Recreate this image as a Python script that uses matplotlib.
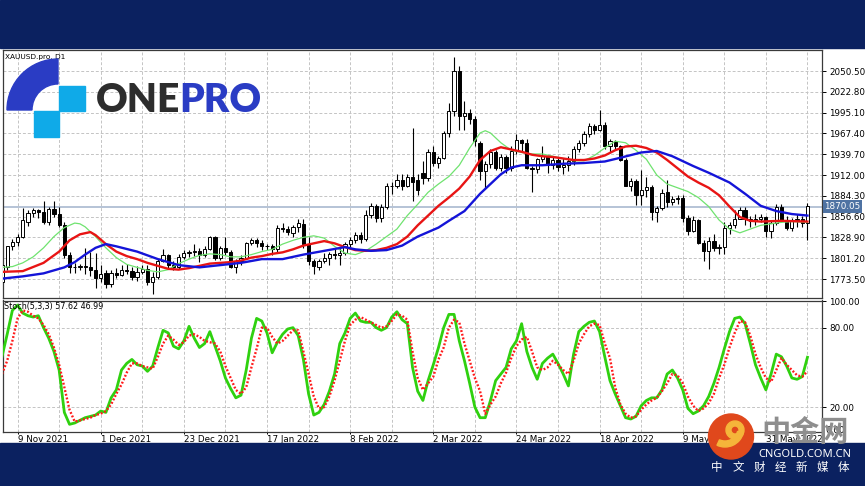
import matplotlib
matplotlib.use("Agg")
import matplotlib.pyplot as plt
import matplotlib.transforms as mtrans
from matplotlib.patches import Rectangle, Wedge, Circle
import numpy as np

# daily XAUUSD candles, bar 0 = 4 Nov 2021 ... bar 155 = 10 Jun 2022
opens = [1770, 1790, 1817, 1823, 1830, 1850, 1862, 1865, 1863, 1850,
         1867, 1860, 1846, 1805, 1790, 1789, 1791, 1790, 1786, 1775,
         1781, 1767, 1782, 1779, 1785, 1784, 1776, 1783, 1787, 1769,
         1776, 1798, 1805, 1792, 1789, 1803, 1808, 1810, 1811, 1805,
         1814, 1829, 1801, 1815, 1810, 1790, 1797, 1801, 1821, 1825,
         1822, 1817, 1818, 1813, 1842, 1840, 1835, 1843, 1847, 1820,
         1797, 1790, 1797, 1801, 1807, 1805, 1808, 1820, 1826, 1832,
         1827, 1859, 1871, 1855, 1869, 1898, 1898, 1905, 1898, 1910,
         1906, 1915, 1908, 1943, 1928, 1935, 1968, 1997, 2050, 1990,
         1995, 1987, 1954, 1918, 1927, 1943, 1921, 1936, 1921, 1944,
         1958, 1954, 1922, 1920, 1933, 1937, 1925, 1932, 1923, 1925,
         1931, 1946, 1954, 1966, 1977, 1972, 1979, 1950, 1957, 1951,
         1932, 1898, 1904, 1886, 1892, 1896, 1863, 1868, 1889, 1876,
         1880, 1882, 1855, 1838, 1852, 1821, 1811, 1824, 1815, 1816,
         1841, 1846, 1853, 1866, 1853, 1851, 1853, 1856, 1837, 1848,
         1869, 1851, 1842, 1852, 1853, 1848]
highs = [1795, 1818, 1827, 1833, 1868, 1866, 1868, 1867, 1877, 1870,
         1877, 1869, 1849, 1810, 1795, 1794, 1815, 1810, 1808, 1792,
         1785, 1786, 1788, 1792, 1794, 1790, 1791, 1792, 1792, 1783,
         1800, 1814, 1807, 1797, 1807, 1812, 1812, 1820, 1815, 1818,
         1831, 1831, 1817, 1829, 1812, 1800, 1805, 1823, 1828, 1828,
         1825, 1820, 1820, 1846, 1848, 1844, 1845, 1853, 1853, 1829,
         1800, 1800, 1808, 1810, 1813, 1816, 1823, 1830, 1836, 1836,
         1865, 1875, 1874, 1873, 1902, 1903, 1914, 1913, 1914, 1974,
         1914, 1930, 1946, 1950, 1937, 1970, 2008, 2069, 2057, 2010,
         2000, 1990, 1957, 1930, 1947, 1945, 1940, 1938, 1950, 1966,
         1960, 1960, 1924, 1935, 1950, 1939, 1937, 1936, 1934, 1937,
         1950, 1959, 1970, 1981, 1980, 1998, 1982, 1960, 1959, 1952,
         1935, 1908, 1907, 1919, 1910, 1899, 1871, 1893, 1906, 1884,
         1886, 1886, 1859, 1858, 1854, 1826, 1829, 1834, 1820, 1849,
         1850, 1865, 1869, 1870, 1858, 1860, 1860, 1858, 1852, 1874,
         1874, 1857, 1855, 1860, 1857, 1875]
lows = [1759, 1786, 1812, 1817, 1828, 1844, 1856, 1855, 1847, 1846,
        1856, 1843, 1802, 1782, 1781, 1785, 1780, 1778, 1762, 1770,
        1762, 1763, 1775, 1777, 1780, 1772, 1771, 1780, 1765, 1753,
        1774, 1796, 1788, 1786, 1787, 1800, 1803, 1804, 1796, 1803,
        1812, 1799, 1799, 1806, 1788, 1782, 1792, 1800, 1819, 1816,
        1812, 1812, 1805, 1810, 1836, 1832, 1830, 1836, 1815, 1792,
        1780, 1786, 1795, 1792, 1800, 1792, 1805, 1816, 1822, 1821,
        1824, 1855, 1849, 1850, 1867, 1887, 1895, 1892, 1896, 1878,
        1885, 1900, 1904, 1924, 1922, 1933, 1963, 1990, 1972, 1972,
        1980, 1950, 1906, 1895, 1922, 1919, 1918, 1915, 1918, 1940,
        1944, 1920, 1890, 1915, 1929, 1915, 1920, 1917, 1914, 1918,
        1926, 1942, 1951, 1963, 1966, 1970, 1946, 1942, 1946, 1930,
        1897, 1891, 1872, 1872, 1883, 1852, 1850, 1866, 1870, 1872,
        1874, 1850, 1832, 1836, 1820, 1797, 1787, 1811, 1807, 1807,
        1834, 1842, 1853, 1845, 1843, 1845, 1849, 1829, 1828, 1845,
        1849, 1839, 1837, 1843, 1843, 1825]
closes = [1792, 1817, 1823, 1830, 1852, 1862, 1865, 1863, 1850, 1867,
          1860, 1846, 1805, 1790, 1789, 1791, 1790, 1786, 1775, 1780,
          1767, 1782, 1779, 1785, 1784, 1776, 1783, 1787, 1769, 1776,
          1798, 1805, 1792, 1789, 1803, 1808, 1810, 1811, 1805, 1814,
          1829, 1801, 1815, 1810, 1790, 1797, 1801, 1821, 1825, 1822,
          1817, 1818, 1813, 1842, 1840, 1836, 1843, 1848, 1820, 1797,
          1791, 1797, 1801, 1807, 1805, 1808, 1820, 1826, 1832, 1827,
          1859, 1871, 1855, 1869, 1898, 1898, 1905, 1898, 1910, 1903,
          1892, 1908, 1943, 1928, 1935, 1968, 1997, 2050, 1990, 1995,
          1987, 1957, 1918, 1927, 1943, 1921, 1936, 1921, 1944, 1958,
          1954, 1922, 1920, 1933, 1937, 1925, 1932, 1923, 1925, 1931,
          1946, 1954, 1966, 1977, 1972, 1979, 1950, 1957, 1951, 1932,
          1898, 1904, 1886, 1892, 1896, 1863, 1868, 1888, 1876, 1880,
          1882, 1855, 1838, 1852, 1821, 1811, 1824, 1815, 1816, 1841,
          1846, 1853, 1866, 1853, 1851, 1853, 1856, 1837, 1848, 1869,
          1851, 1842, 1852, 1853, 1848, 1871]
last_price = 1870.05

# moving averages (bar index, price)
green_ma_bars = [0, 2, 4, 6, 8, 10, 12, 14, 15, 16, 18, 20, 22, 24, 26, 28, 30, 32, 34, 36,
                 38, 40, 42, 44, 46, 48, 50, 52, 54, 56, 58, 60, 62, 64, 66, 68, 70, 72, 74, 76,
                 78, 80, 82, 84, 86, 88, 90, 92, 93, 94, 96, 98, 100, 102, 104, 106, 108, 110,
                 112, 114, 116, 118, 120, 122, 124, 126, 128, 130, 132, 134, 136, 138, 140, 142,
                 144, 146, 148, 150, 152, 155]
green_ma = [1789, 1790, 1795, 1803, 1815, 1830, 1842, 1848, 1847, 1843, 1830, 1815, 1802, 1793,
            1789, 1785, 1783, 1786, 1794, 1800, 1805, 1807, 1806, 1803, 1803, 1806, 1810, 1813,
            1820, 1825, 1829, 1831, 1828, 1817, 1808, 1806, 1811, 1820, 1830, 1840, 1858, 1873,
            1889, 1900, 1910, 1925, 1948, 1968, 1971, 1968, 1955, 1945, 1942, 1940, 1940, 1937,
            1934, 1931, 1931, 1938, 1948, 1957, 1955, 1945, 1933, 1912, 1900, 1895, 1890, 1882,
            1870, 1852, 1840, 1835, 1840, 1845, 1847, 1849, 1850, 1849]
red_ma_bars = [0, 4, 8, 11, 13, 15, 17, 18, 20, 22, 24, 26, 28, 30, 32, 34, 36, 38, 40, 42,
               44, 46, 48, 50, 52, 54, 56, 58, 60, 62, 64, 66, 68, 70, 72, 74, 76, 78, 80, 82,
               84, 86, 88, 90, 92, 94, 96, 98, 100, 102, 104, 106, 108, 110, 112, 114, 116, 118,
               120, 122, 124, 126, 128, 130, 132, 134, 136, 138, 140, 142, 144, 146, 150, 155]
red_ma = [1783, 1784, 1795, 1810, 1825, 1833, 1836, 1832, 1820, 1810, 1804, 1800, 1795, 1791,
          1787, 1786, 1788, 1791, 1794, 1795, 1796, 1798, 1802, 1804, 1807, 1809, 1813, 1818,
          1821, 1824, 1821, 1816, 1812, 1811, 1812, 1815, 1820, 1830, 1845, 1858, 1871, 1882,
          1894, 1910, 1932, 1944, 1949, 1946, 1943, 1939, 1937, 1936, 1934, 1932, 1932, 1934,
          1938, 1945, 1950, 1951, 1948, 1942, 1932, 1921, 1910, 1902, 1895, 1885, 1870, 1856,
          1851, 1850, 1851, 1850]
blue_ma_bars = [0, 4, 8, 12, 14, 16, 18, 20, 22, 26, 30, 34, 38, 42, 46, 50, 54, 58, 62, 66,
                68, 71, 74, 77, 80, 82, 84, 86, 89, 92, 94, 96, 98, 100, 104, 108, 112, 116, 119,
                123, 126, 129, 133, 136, 140, 143, 146, 149, 152, 155]
blue_ma = [1774, 1777, 1781, 1789, 1796, 1806, 1815, 1820, 1817, 1810, 1800, 1792, 1789, 1792,
           1795, 1800, 1800, 1806, 1811, 1816, 1813, 1811, 1812, 1818, 1830, 1836, 1842, 1851,
           1864, 1887, 1900, 1913, 1922, 1925, 1925, 1927, 1928, 1930, 1935, 1942, 1944, 1937,
           1924, 1915, 1902, 1887, 1871, 1864, 1860, 1858]

# Stoch(5,3,3) per bar
stoch_k = [58, 75, 93, 97, 91, 89, 88, 89, 80, 72, 62, 48, 16, 7, 8, 10, 12, 13, 14, 17,
           16, 27, 33, 48, 53, 56, 52, 51, 47, 51, 65, 78, 76, 66, 64, 70, 81, 72, 65, 68,
           77, 66, 55, 42, 34, 27, 29, 48, 72, 87, 85, 76, 61, 69, 75, 79, 80, 74, 56, 30,
           14, 16, 22, 32, 45, 68, 76, 87, 91, 85, 84, 84, 80, 78, 80, 88, 92, 86, 83, 50,
           32, 25, 40, 52, 65, 80, 90, 90, 70, 55, 38, 20, 12, 12, 25, 40, 45, 50, 64, 70,
           83, 62, 50, 41, 53, 57, 60, 53, 45, 36, 60, 77, 81, 84, 85, 77, 58, 40, 30, 21,
           12, 11, 13, 21, 25, 27, 27, 33, 45, 48, 42, 33, 19, 15, 17, 21, 28, 38, 50, 64,
           77, 87, 88, 83, 68, 52, 42, 33, 45, 60, 58, 51, 42, 41, 43, 57.62]
stoch_d = [45, 55, 70, 87, 93, 92, 89, 87, 82, 75, 65, 52, 35, 18, 9, 10, 11, 12, 14, 15,
           17, 22, 30, 37, 46, 53, 53, 51, 50, 49, 58, 68, 74, 71, 67, 69, 74, 75, 73, 70,
           69, 68, 62, 51, 42, 33, 30, 35, 50, 64, 80, 80, 73, 68, 70, 74, 78, 78, 62, 45,
           28, 19, 20, 28, 40, 55, 70, 82, 86, 88, 86, 84, 82, 80, 81, 85, 90, 89, 86, 62,
           42, 33, 38, 43, 56, 65, 80, 86, 84, 68, 55, 42, 32, 15, 22, 28, 38, 46, 57, 66,
           71, 73, 62, 50, 48, 50, 55, 52, 48, 45, 55, 68, 75, 81, 83, 82, 68, 57, 35, 22,
           15, 12, 13, 18, 22, 25, 27, 32, 38, 45, 44, 38, 28, 21, 17, 19, 23, 30, 42, 52,
           65, 76, 85, 84, 74, 60, 50, 42, 39, 48, 57, 52, 48, 44, 43, 46.99]

price_ticks = [1773.50, 1801.20, 1828.90, 1856.60, 1884.30, 1912.00, 1939.70, 1967.40,
               1995.10, 2022.80, 2050.50]
stoch_ticks = [20, 80, 100]
date_bars = [3, 19, 35, 51, 67, 83, 99, 115, 131, 147]
date_labels = ["9 Nov 2021", "1 Dec 2021", "23 Dec 2021", "17 Jan 2022", "8 Feb 2022",
               "2 Mar 2022", "24 Mar 2022", "18 Apr 2022", "9 May 2022", "31 May 2022"]

NAVY = "#0b2160"
GRID = "#c4c4c4"
W, H = 865, 486


def fig_box(x0, y0, x1, y1):
    return [x0 / W, 1 - y1 / H, (x1 - x0) / W, (y1 - y0) / H]


fig = plt.figure(figsize=(8.65, 4.86), dpi=100)
fig.patch.set_facecolor("white")

ax = fig.add_axes(fig_box(2.5, 50, 822, 298))
ax_st = fig.add_axes(fig_box(2.5, 300.5, 822, 432), sharex=ax)

bars = np.arange(len(closes))
o = np.array(opens, dtype=float)
c = np.array(closes, dtype=float)

# grid
grid_bars = np.arange(3, len(closes), 8)
for a in (ax, ax_st):
    for gb in grid_bars:
        a.axvline(gb, color=GRID, lw=0.7, ls=(0, (3, 2)), zorder=0)
for p in price_ticks:
    ax.axhline(p, color=GRID, lw=0.7, ls=(0, (3, 2)), zorder=0)
for lv in (20, 80):
    ax_st.axhline(lv, color=GRID, lw=0.7, ls=(0, (3, 2)), zorder=0)

# last price line
ax.axhline(last_price, color="#a9b9cf", lw=1.2, zorder=1)

# candles
ax.vlines(bars, lows, highs, color="black", lw=0.8, zorder=2)
body_colors = np.where(c >= o, "white", "black")
ax.bar(bars, np.abs(c - o), bottom=np.minimum(o, c), width=0.62, color=body_colors,
       edgecolor="black", linewidth=0.7, zorder=3)

# moving averages
ax.plot(green_ma_bars, green_ma, color="#6fe36f", lw=0.9, zorder=4)
ax.plot(red_ma_bars, red_ma, color="#e81414", lw=1.7, zorder=5)
ax.plot(blue_ma_bars, blue_ma, color="#1414d8", lw=1.7, zorder=5)

ax.set_xlim(0.1, 157.8)
ax.set_ylim(1748.2, 2078.5)

# stochastic
ax_st.plot(bars, stoch_k, color="#2fd10f", lw=2.0, zorder=3)
ax_st.plot(bars, stoch_d, color="#ff1a1a", lw=1.7, ls=(0, (0.8, 0.8)), zorder=4)
ax_st.set_ylim(1.2, 100.5)

for a in (ax, ax_st):
    a.yaxis.tick_right()
    a.tick_params(axis="y", length=3, width=0.7, pad=2, labelsize=6.3, right=True, left=False)
    for s in a.spines.values():
        s.set_color("#3a3a3a")
        s.set_linewidth(0.9)
    a.set_facecolor("white")

ax.set_yticks(price_ticks)
ax.set_yticklabels([f"{p:.2f}" for p in price_ticks])
ax.tick_params(axis="x", bottom=False, labelbottom=False)

ax_st.set_yticks(stoch_ticks)
ax_st.set_yticklabels([f"{v:.2f}" for v in stoch_ticks])
ax_st.set_xticks(date_bars)
ax_st.set_xticklabels(date_labels)
ax_st.tick_params(axis="x", length=1.5, width=0.7, pad=0.3, labelsize=6.3)
for lbl in ax_st.get_xticklabels():
    lbl.set_horizontalalignment("left")
ax_st.text(1.004, 0.015, "0.00", transform=ax_st.transAxes, fontsize=6.3, va="center")

# last price tag
tr = mtrans.blended_transform_factory(ax.transAxes, ax.transData)
ax.text(1.003, last_price, f"{last_price:.2f}", transform=tr, fontsize=6.3, color="white",
        va="center", ha="left", clip_on=False,
        bbox=dict(boxstyle="square,pad=0.18", fc="#4f73a3", ec="none"), zorder=6)

ax.text(0.003, 0.985, "XAUUSD.pro, D1", transform=ax.transAxes, fontsize=5.3, va="top")
ax_st.text(0.002, 0.985, "Stoch(5,3,3) 57.62 46.99", transform=ax_st.transAxes,
           fontsize=5.8, va="top")

# overlay: frame bands, logo, watermark
ov = fig.add_axes([0, 0, 1, 1], zorder=10)
ov.set_xlim(0, W)
ov.set_ylim(H, 0)
ov.axis("off")
ov.patch.set_alpha(0)
ov.add_patch(Rectangle((0, 0), W, 48, color=NAVY, zorder=1))
ov.add_patch(Rectangle((0, 443), W, H - 443, color=NAVY, zorder=1))

# ONEPRO logo
ov.add_patch(Wedge((58, 110), 51, 180, 270, width=25, color="#2a3cc4", zorder=2))
ov.add_patch(Rectangle((59, 86), 26, 25, color="#0faae8", zorder=2))
ov.add_patch(Rectangle((34, 111), 25, 26, color="#0faae8", zorder=2))
ov.text(96, 100, "ONE", fontsize=28, fontweight="heavy", family="Lato", color="#2d2d2d",
        ha="left", va="center", zorder=3)
ov.text(179, 100, "PRO", fontsize=28, fontweight="heavy", family="Lato", color="#2a3cc4",
        ha="left", va="center", zorder=3)

# cngold watermark
ov.add_patch(Circle((731, 436.5), 22.5, color="#e0481c", zorder=4))
ov.add_patch(Wedge((735, 430), 9, 0, 360, width=5, color="#f5b53a", zorder=5))
ov.add_patch(Wedge((725, 428), 19, 15, 115, width=6, color="#f5b53a", zorder=5))
ov.text(805, 432, "中金网", fontsize=21, fontweight="bold", family="Noto Sans CJK SC",
        color="#8e8e8e", ha="center", va="center", zorder=4)
ov.text(805, 454.5, "CNGOLD.COM.CN", fontsize=8, family="Noto Sans", color="white",
        ha="center", va="center", zorder=4)
for k, ch in enumerate("中文财经新媒体"):
    ov.text(717 + k * 21, 467.5, ch, fontsize=8.3, family="Noto Sans CJK SC", color="white",
            ha="center", va="center", zorder=4)

fig.savefig("out.png", dpi=100)
